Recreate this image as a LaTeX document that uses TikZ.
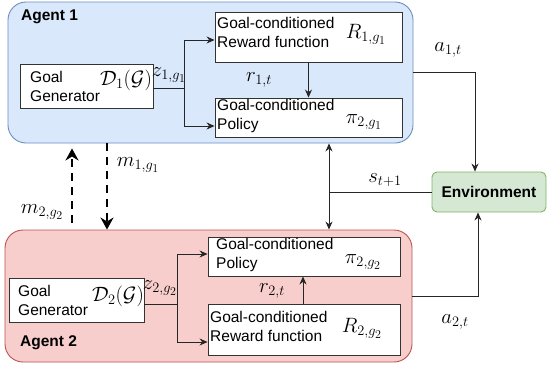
\documentclass[tikz,border=0pt]{standalone}
\usepackage[no-math]{fontspec}
\setmainfont{Liberation Sans}
\usetikzlibrary{arrows.meta}
\definecolor{agentafill}{HTML}{DAE8FC}
\definecolor{agentaline}{HTML}{6C8EBF}
\definecolor{agentbfill}{HTML}{F8CECC}
\definecolor{agentbline}{HTML}{B85450}
\definecolor{envfill}{HTML}{D5E8D4}
\definecolor{envline}{HTML}{82B366}

\begin{document}
\begin{tikzpicture}[x=1pt,y=-1pt,>={Stealth[length=8pt,width=7pt]},
  agent/.style={draw,rounded corners=18pt,line width=0.9pt},
  block/.style={draw=black!80,fill=white,line width=0.9pt},
  txt/.style={anchor=west,align=left,inner sep=0pt,font=\fontsize{15.5}{19}\selectfont},
  head/.style={anchor=west,inner sep=0pt,font=\bfseries\fontsize{15.5}{18}\selectfont},
  mlbl/.style={inner sep=0pt,font=\fontsize{20.74}{23}\selectfont},
  conn/.style={->,draw=black!85,line width=0.8pt},
  msg/.style={-{Stealth[length=12pt,width=13pt]},line width=2.6pt,dash pattern=on 8pt off 6pt}]
  \useasboundingbox (0,0) rectangle (548,367);

  \node[agent,fill=agentafill,draw=agentaline,minimum width=405pt,minimum height=141pt] (ag1) at (210.5,72.5) {};
  \node[agent,fill=agentbfill,draw=agentbline,minimum width=407pt,minimum height=132pt] (ag2) at (208.5,296) {};
  \node[draw=envline,fill=envfill,rounded corners=5pt,line width=0.9pt,minimum width=114pt,minimum height=40pt,
        font=\bfseries\fontsize{15.5}{18}\selectfont] (env) at (489,192) {Environment};

  \node[head] (ag1l) at (21,17) {Agent 1};
  \node[head] (ag2l) at (20,343) {Agent 2};

  \node[block,minimum width=133pt,minimum height=44pt] (gg1) at (86.5,86) {};
  \node[block,minimum width=187pt,minimum height=50pt] (rw1) at (308.5,37) {};
  \node[block,minimum width=187pt,minimum height=39pt] (pol1) at (308.5,117.5) {};
  \node[block,minimum width=135pt,minimum height=44pt] (gg2) at (76.5,300) {};
  \node[block,minimum width=192pt,minimum height=39pt] (pol2) at (304,256.5) {};
  \node[block,minimum width=192pt,minimum height=51pt] (rw2) at (304,329.5) {};

  \node[txt] (gg1t) at (30,86.5) {Goal\\Generator};
  \node[txt] (rw1t) at (217,32) {Goal-conditioned\\Reward function};
  \node[txt] (pol1t) at (217,116) {Goal-conditioned\\Policy};
  \node[txt] (gg2t) at (18,300) {Goal\\Generator};
  \node[txt] (pol2t) at (216,255) {Goal-conditioned\\Policy};
  \node[txt] (rw2t) at (210,326) {Goal-conditioned\\Reward function};

  \node[mlbl] (d1) at (126,80) {$\mathcal{D}_1(\mathcal{G})$};
  \node[mlbl] (z1) at (169,75) {$z_{1,g_1}$};
  \node[mlbl] (R1) at (366,34) {$R_{1,g_1}$};
  \node[mlbl] (pi1) at (364,122) {$\pi_{2,g_1}$};
  \node[mlbl] (r1) at (259,80) {$r_{1,t}$};
  \node[mlbl] (a1) at (448,50) {$a_{1,t}$};
  \node[mlbl] (s1) at (385,180) {$s_{t+1}$};
  \node[mlbl] (m1) at (138,165) {$m_{1,g_1}$};
  \node[mlbl] (m2) at (42,212) {$m_{2,g_2}$};
  \node[mlbl] (d2) at (118,296) {$\mathcal{D}_2(\mathcal{G})$};
  \node[mlbl] (z2) at (160,288) {$z_{2,g_2}$};
  \node[mlbl] (pi2) at (363,262) {$\pi_{2,g_2}$};
  \node[mlbl] (R2) at (362,328) {$R_{2,g_2}$};
  \node[mlbl] (r2) at (272,291) {$r_{2,t}$};
  \node[mlbl] (a2) at (455,322) {$a_{2,t}$};

  \coordinate (br1) at (184,88);
  \coordinate (br2) at (177,304);
  \coordinate (sj) at (329,194);
  \coordinate (m2s) at (72,223);
  \coordinate (m1s) at (107,143);

  \draw[conn,-] (gg1.east |- br1) -- (br1);
  \draw[conn] (br1) |- ([yshift=-3pt]rw1.west);
  \draw[conn] (br1) |- ([yshift=-8.5pt]pol1.west);
  \draw[conn] (rw1.south) -- (pol1.north);
  \draw[conn,-] (gg2.east |- br2) -- (br2);
  \draw[conn] (br2) |- ([yshift=2.5pt]pol2.west);
  \draw[conn] (br2) |- ([yshift=-12.5pt]rw2.west);
  \draw[conn] ([xshift=-1pt]rw2.north) -- ([xshift=-1pt]pol2.south);
  \draw[conn] (ag1.east) -| ([xshift=-14pt]env.north);
  \draw[conn] (ag2.east) -| ([xshift=-11pt]env.south);
  \draw[conn,-] (env.west) -- (env.west -| sj);
  \draw[conn] (env.west -| sj) -- (ag1.south -| sj);
  \draw[conn] (env.west -| sj) -- (ag2.north -| sj);
  \draw[msg,shorten >=5pt] (m2s) -- (m2s |- ag1.south);
  \draw[msg] (m1s) -- (m1s |- ag2.north);
\end{tikzpicture}
\end{document}
